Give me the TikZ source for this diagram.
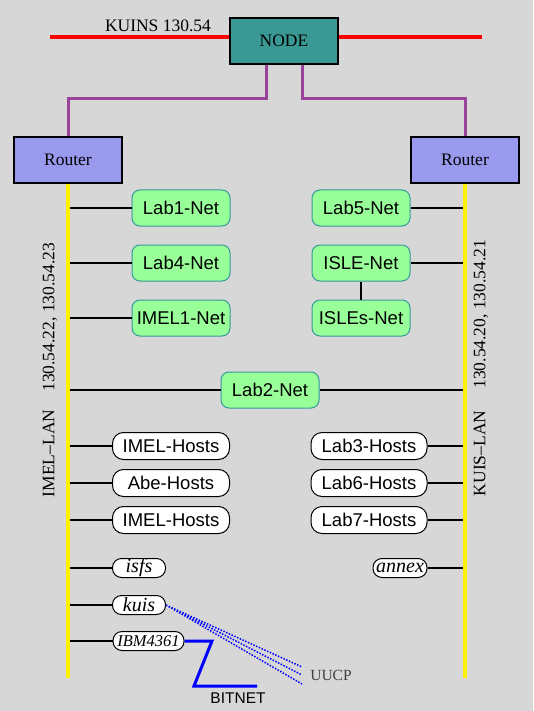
\documentclass[tikz,border=0pt]{standalone}
\usepackage{fontspec}
\setmainfont{Liberation Serif}
\newfontfamily\hvfont{Liberation Sans}
\usetikzlibrary{positioning}
\definecolor{bgGray}{RGB}{215,215,215}
\definecolor{nodeTeal}{RGB}{58,153,148}
\definecolor{routerBlue}{RGB}{153,153,238}
\definecolor{netGreen}{RGB}{153,255,153}
\definecolor{netEdge}{RGB}{51,153,153}
\definecolor{wanPurple}{RGB}{153,68,153}

\begin{document}
\begin{tikzpicture}[x=1pt,y=-1pt,node distance=18pt,line width=2pt,
  sq node/.style={rectangle,draw,line width=2pt,minimum width=108pt,minimum height=46pt,inner sep=0pt,font=\fontsize{17.5}{20}\selectfont},
  net node/.style={rectangle,rounded corners=8pt,draw=netEdge,line width=1pt,fill=netGreen,minimum width=98pt,minimum height=36pt,inner sep=0pt,font=\hvfont\fontsize{18.5}{20}\selectfont},
  host node/.style={rectangle,rounded corners=11pt,draw,line width=1pt,fill=white,minimum height=27pt,inner sep=0pt,font=\hvfont\fontsize{18.5}{20}\selectfont},
  mach node/.style={rectangle,rounded corners=9pt,draw,line width=1pt,fill=white,minimum height=19pt,inner sep=0pt,font=\itshape\fontsize{20}{20}\selectfont},
  lan text/.style={rotate=90,font=\fontsize{17.5}{20}\selectfont}]
  \fill[bgGray] (0,0) rectangle (533,711);
  \useasboundingbox (0,0) rectangle (533,711);
  % backbone and routers
  \node[sq node, fill=nodeTeal] (node) at (284,41) {NODE};
  \node[sq node, fill=routerBlue] (r1) at (68,160) {Router};
  \node[sq node, fill=routerBlue] (r2) at (465,160) {Router};
  \node[font=\fontsize{17.5}{20}\selectfont] (kuins) at (158,26) {KUINS 130.54};
  \coordinate (redL) at (50,37);
  \coordinate (redR) at (482,37);
  \coordinate (pl) at (68,99);
  \coordinate (pr) at (465,99);
  \coordinate (lbot) at (68,678);
  \coordinate (rbot) at (465,678);
  % nets
  \node[net node] (lab1) at (181,208) {Lab1-Net};
  \node[net node, below=of lab1] (lab4) {Lab4-Net};
  \node[net node, below=of lab4] (imel1) {IMEL1-Net};
  \node[net node] (lab5) at (361,208) {Lab5-Net};
  \node[net node, below=of lab5] (isle) {ISLE-Net};
  \node[net node, below=of isle] (isles) {ISLEs-Net};
  \node[net node] (lab2) at (270,390) {Lab2-Net};
  % hosts
  \node[host node, minimum width=117pt] (ih1) at (171,446) {IMEL-Hosts};
  \node[host node, minimum width=117pt, below=9pt of ih1] (abe) {Abe-Hosts};
  \node[host node, minimum width=117pt, below=9pt of abe] (ih2) {IMEL-Hosts};
  \node[host node, minimum width=116pt] (lab3) at (369,446) {Lab3-Hosts};
  \node[host node, minimum width=116pt, below=9pt of lab3] (lab6) {Lab6-Hosts};
  \node[host node, minimum width=116pt, below=9pt of lab6] (lab7) {Lab7-Hosts};
  % machines
  \node[mach node, minimum width=53pt] (isfs) at (139,568) {isfs};
  \node[mach node, minimum width=53pt] (kuis) at (139,605) {kuis};
  \node[mach node, minimum width=71pt, font=\itshape\fontsize{16.5}{17}\selectfont] (ibm) at (148.5,641) {IBM4361};
  \node[mach node, minimum width=54pt] (annex) at (400,568) {annex};
  \node[lan text] (imellan) at (50,370) {IMEL--LAN\hspace{18pt}130.54.22, 130.54.23};
  \node[lan text] (kuislan) at (481,368) {KUIS--LAN\hspace{22pt}130.54.20, 130.54.21};
  \node[font=\fontsize{15.5}{17}\selectfont, text=gray!50!black] (uucp) at (331,675) {UUCP};
  \node[font=\hvfont\fontsize{15.5}{17}\selectfont] (bitnet) at (238,698) {BITNET};
  \coordinate (u1) at (302,667);
  \coordinate (u2) at (302,675);
  \coordinate (u3) at (302,684);
  \coordinate (b1) at (212,641);
  \coordinate (b2) at (194,686);
  \coordinate (b3) at (257,686);
  % links
  \draw[red, line width=4pt] (node.west |- redL) -- (redL)
    (node.east |- redR) -- (redR);
  \draw[wanPurple, line width=3pt] ([xshift=-18pt]node.south) |- (pl) -- (r1.north);
  \draw[wanPurple, line width=3pt] ([xshift=18pt]node.south) |- (pr) -- (r2.north);
  \path[draw]
    (lab1.west) edge (lab1.west -| r1)
    (lab4.west) edge (lab4.west -| r1)
    (imel1.west) edge (imel1.west -| r1)
    (lab5.east) edge (lab5.east -| r2)
    (isle.east) edge (isle.east -| r2)
    (isle) edge (isles)
    (lab2.west) edge (lab2.west -| r1)
    (lab2.east) edge (lab2.east -| r2)
    (ih1.west) edge (ih1.west -| r1)
    (abe.west) edge (abe.west -| r1)
    (ih2.west) edge (ih2.west -| r1)
    (lab3.east) edge (lab3.east -| r2)
    (lab6.east) edge (lab6.east -| r2)
    (lab7.east) edge (lab7.east -| r2)
    (isfs.west) edge (isfs.west -| r1)
    (kuis.west) edge (kuis.west -| r1)
    (ibm.west) edge (ibm.west -| r1)
    (annex.east) edge (annex.east -| r2);
  \draw[yellow, line width=4pt] (r1.south) -- (lbot)
    (r2.south) -- (rbot);
  \draw[blue, line width=1.5pt, dash pattern=on 1.5pt off 1.5pt]
    (kuis.east) -- (u1) (kuis.east) -- (u2) (kuis.east) -- (u3);
  \draw[blue, line width=3pt] (ibm.east) -- (b1) -- (b2) -- (b3);
\end{tikzpicture}
\end{document}
